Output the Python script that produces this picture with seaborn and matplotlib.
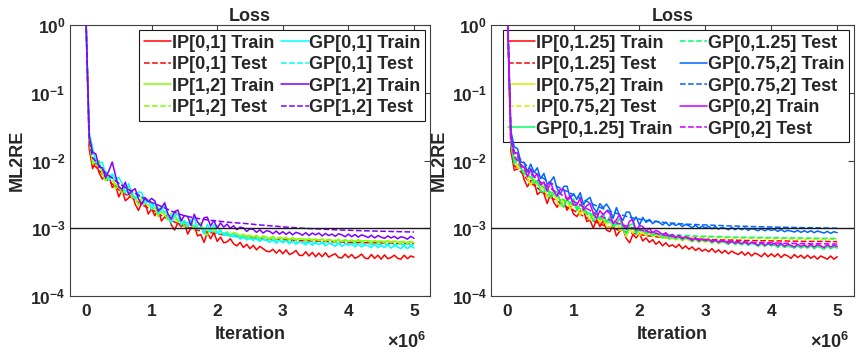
import numpy as np
import seaborn as sns
import matplotlib.pyplot as plt

# iteration grids (x1e6): train logged every 0.05e6, test every 0.1e6
ITERS_TRAIN = [0] + [round(0.05 * k, 2) for k in range(1, 101)]
ITERS_TEST = [0, 0.05] + [round(0.1 * k, 1) for k in range(1, 51)]

# loss values, in units of 1e-4
# ---- left panel ----
ip01_train = [12000,
              150, 76, 96, 66, 53, 63, 60, 40, 43, 29,
              37, 25.5, 28, 34, 22.5, 18.4, 23.7, 24, 16.2, 19.4,
              15.3, 19.2, 12.8, 14.7, 15.8, 11.3, 9.4, 12.1, 10.5, 12,
              8.2, 10.1, 11, 7.7, 8.1, 6.2, 8.7, 7.0, 8.6, 6.4,
              7.4, 6.1, 6.3, 7.0, 5.9, 5.5, 6.2, 5.2, 5.8, 5.0,
              5.6, 4.8, 5.4, 5.0, 4.6, 4.5, 4.9, 4.3, 4.8, 4.2,
              4.8, 4.1, 4.3, 4.7, 4.0, 3.95, 4.5, 3.9, 4.4, 3.8,
              4.3, 3.8, 4.35, 3.75, 4.0, 4.2, 3.7, 3.65, 4.15, 3.7,
              4.1, 3.6, 3.8, 4.15, 3.65, 3.55, 4.1, 3.6, 4.0, 3.5,
              4.05, 3.55, 3.7, 4.0, 3.6, 3.5, 4.0, 3.55, 3.9, 3.75]
ip01_test = [12000, 150, 90, 72, 55, 45, 37, 32, 28, 24, 21, 19, 16.5, 14.5, 13, 11.8, 10.8, 10.0, 9.4, 8.9, 8.6, 8.3, 8.0, 7.8, 7.6, 7.4, 7.3, 7.2, 7.0, 6.9, 6.85, 6.8, 6.7, 6.6, 6.55, 6.5, 6.45, 6.4, 6.35, 6.3, 6.25, 6.2, 6.2, 6.15, 6.1, 6.1, 6.05, 6.0, 6.0, 5.95, 5.95, 5.9]
ip12_train = [12000,
              195, 89, 95, 100, 63, 50, 60, 60, 38, 42,
              32.3, 39.6, 41, 27.9, 29, 21.6, 29.3, 22.8, 27, 18.9,
              20.5, 14.8, 21, 15.7, 13.2, 16.7, 16.8, 12.2, 14.3, 10.6,
              10.8, 13.8, 9.4, 11, 12.2, 9, 7.8, 10.3, 9.2, 10.8,
              9.2, 8.0, 8.9, 7.8, 8.6, 8.4, 7.3, 8.2, 7.2, 7.9,
              7.3, 7.9, 7.0, 7.7, 7.4, 6.8, 7.6, 6.8, 7.4, 6.9,
              7.4, 6.7, 7.3, 6.6, 7.1, 6.9, 6.5, 7.1, 6.5, 7.0,
              6.5, 7.0, 6.4, 6.9, 6.6, 6.3, 6.9, 6.3, 6.8, 6.4,
              6.7, 6.2, 6.8, 6.2, 6.6, 6.4, 6.1, 6.6, 6.1, 6.5,
              6.0, 6.6, 6.1, 6.5, 6.2, 5.9, 6.4, 5.9, 6.4, 6.1]
ip12_test = [12000, 185, 100, 78, 60, 50, 41, 36, 31, 27, 23, 21, 18, 16.2, 14.3, 13.0, 11.8, 11.0, 10.2, 9.6, 9.1, 8.8, 8.5, 8.2, 8.0, 7.8, 7.6, 7.5, 7.4, 7.3, 7.2, 7.1, 7.0, 6.95, 6.9, 6.85, 6.8, 6.75, 6.7, 6.65, 6.6, 6.6, 6.55, 6.5, 6.5, 6.45, 6.4, 6.4, 6.35, 6.35, 6.3, 6.3]
gp01_train = [12000,
              260, 156, 93.5, 94.5, 93.6, 63, 50.4, 63.8, 52, 56.4,
              46.2, 32.8, 45.6, 33.3, 27.2, 34.5, 33.6, 23.4, 26.4, 19.1,
              24.2, 16.6, 18.5, 21.9, 14.4, 12, 15.4, 16.2, 11.1, 13.1,
              10.5, 13, 14.1, 9.7, 10.4, 8.2, 11.4, 9.1, 11.3, 8.4,
              9.4, 7.9, 8.7, 7.5, 8.2, 7.9, 6.9, 7.6, 6.7, 7.3,
              6.6, 7.2, 6.4, 7.0, 6.7, 6.2, 6.9, 6.0, 6.7, 6.1,
              6.6, 5.9, 6.5, 5.8, 6.3, 6.1, 5.7, 6.3, 5.6, 6.2,
              5.7, 6.2, 5.5, 6.0, 5.8, 5.4, 6.0, 5.4, 5.9, 5.6,
              5.9, 5.3, 5.9, 5.3, 5.7, 5.5, 5.2, 5.8, 5.2, 5.6,
              5.2, 5.7, 5.1, 5.6, 5.3, 5.0, 5.6, 5.0, 5.5, 5.1]
gp01_test = [12000, 230, 125, 86, 68, 56, 46, 40, 34, 30, 26, 23, 20, 17.5, 15.5, 14, 12.6, 11.5, 10.5, 9.7, 9.0, 8.5, 8.0, 7.7, 7.4, 7.2, 7.0, 6.8, 6.7, 6.6, 6.5, 6.4, 6.3, 6.25, 6.2, 6.15, 6.1, 6.05, 6.0, 6.0, 5.95, 5.9, 5.9, 5.85, 5.85, 5.8, 5.8, 5.8, 5.75, 5.75, 5.7, 5.7]
gp12_train = [12000,
              230, 132, 125, 79, 78, 56, 71, 95, 60, 40.5,
              37.8, 48, 31.5, 35.7, 38.4, 27, 22.4, 28.6, 24.5, 27.6,
              25.3, 17.9, 20, 23.8, 16.2, 13.6, 17.6, 18.6, 12.8, 15.4,
              14.9, 11, 16.1, 12.4, 10.8, 14.3, 14.6, 10.8, 13.1, 10,
              12.0, 10.4, 11.5, 10.0, 10.9, 9.5, 10.4, 10.1, 9.0, 9.8,
              9.6, 8.7, 9.5, 8.5, 9.2, 9.0, 8.3, 9.1, 8.2, 8.9,
              8.1, 8.8, 8.0, 8.7, 8.4, 7.9, 8.6, 7.8, 8.5, 8.0,
              8.5, 7.7, 8.4, 7.8, 8.2, 7.6, 8.3, 8.0, 7.5, 8.2,
              7.5, 8.1, 7.4, 8.0, 7.7, 7.3, 7.9, 7.2, 7.8, 7.4,
              7.1, 7.7, 7.2, 7.6, 7.0, 7.5, 7.3, 6.9, 7.6, 7.1]
gp12_test = [12000, 200, 110, 85, 65, 55, 46, 40, 35, 31, 27, 24, 22, 20, 18, 16.5, 15.3, 14.6, 14.0, 13.5, 13.1, 12.8, 12.5, 12.2, 12.0, 11.8, 11.6, 11.3, 11.1, 10.9, 10.7, 10.5, 10.3, 10.2, 10.0, 9.9, 9.8, 9.7, 9.6, 9.5, 9.4, 9.35, 9.3, 9.2, 9.15, 9.1, 9.05, 9.0, 8.95, 8.9, 8.85, 8.8]

# ---- right panel ----
ip0125_train = [12000,
                140, 72, 75, 82.5, 52, 41, 50.6, 50.4, 31.5, 34.7,
                32.6, 23.2, 32.4, 24.2, 20.4, 25.9, 25.8, 18.5, 21.5, 16.2,
                14.9, 17.8, 18.8, 12.6, 13.2, 10, 13.6, 10.6, 13, 9.4,
                8.9, 11.3, 7.7, 9.0, 9.8, 7.1, 6.1, 8.1, 7.2, 8.4,
                6.5, 7.2, 6.2, 6.8, 5.8, 6.4, 5.5, 6.1, 5.4, 5.7,
                5.2, 5.8, 5.0, 5.5, 4.9, 5.3, 4.7, 5.1, 4.6, 4.9,
                4.5, 5.0, 4.4, 4.8, 4.3, 4.7, 4.2, 4.6, 4.3, 4.1,
                4.5, 4.0, 4.4, 3.9, 4.3, 4.1, 3.8, 4.3, 3.8, 4.2,
                3.8, 4.2, 3.7, 4.1, 3.9, 3.6, 4.1, 3.7, 4.0, 3.6,
                4.0, 3.6, 3.9, 3.5, 3.9, 3.7, 3.5, 3.9, 3.5, 3.8]
ip0125_test = [12000, 140, 85, 68, 52, 43, 36, 31, 27, 23.5, 20.5, 18.5, 16, 14.3, 12.8, 11.6, 10.6, 9.9, 9.3, 8.8, 8.4, 8.1, 7.8, 7.6, 7.4, 7.3, 7.2, 7.1, 7.0, 6.95, 6.9, 6.85, 6.8, 6.75, 6.7, 6.7, 6.65, 6.6, 6.6, 6.55, 6.55, 6.5, 6.5, 6.5, 6.45, 6.45, 6.4, 6.4, 6.4, 6.4, 6.35, 6.35]
ip0752_train = [12000,
                175, 120, 76.5, 81.9, 81.6, 54, 43.2, 52.8, 43, 48,
                42.6, 28.9, 31.5, 36.9, 24.8, 20.8, 27, 27.6, 19.1, 23.1,
                21.5, 15.2, 21.4, 15.8, 13.3, 17, 16.8, 12.1, 14.2, 10.6,
                10, 12.3, 13.4, 9.2, 9.8, 7.5, 10.5, 8.4, 10.3, 7.7,
                8.9, 7.8, 8.5, 7.5, 8.0, 7.6, 7.1, 7.6, 6.8, 7.3,
                6.7, 7.2, 6.5, 7.0, 6.7, 6.3, 6.8, 6.2, 6.6, 6.2,
                6.5, 6.0, 6.5, 5.9, 6.3, 6.1, 5.8, 6.3, 5.8, 6.1,
                5.8, 6.2, 5.7, 6.0, 5.8, 5.5, 6.0, 5.5, 5.9, 5.6,
                5.9, 5.4, 5.9, 5.4, 5.7, 5.5, 5.3, 5.7, 5.3, 5.6,
                5.3, 5.7, 5.2, 5.6, 5.4, 5.1, 5.6, 5.2, 5.5, 5.3]
ip0752_test = [12000, 165, 98, 76, 59, 49, 40, 35, 30, 26.5, 23, 21, 18.5, 16.5, 14.7, 13.3, 12.0, 11.0, 10.2, 9.6, 9.1, 8.7, 8.4, 8.1, 7.9, 7.8, 7.7, 7.6, 7.5, 7.45, 7.4, 7.35, 7.3, 7.25, 7.2, 7.2, 7.15, 7.1, 7.1, 7.05, 7.05, 7.0, 7.0, 7.0, 6.95, 6.95, 6.9, 6.9, 6.9, 6.9, 6.85, 6.85]
gp0125_train = [12000,
                185, 88, 114, 77.9, 61.2, 73.6, 68.4, 45.9, 50.6, 34.9,
                34.2, 42.6, 28, 32.6, 34.8, 24.3, 20.4, 26.7, 23.5, 27.6,
                18.3, 22.3, 23.8, 16, 16.8, 12.6, 17.3, 13.6, 16.6, 12.2,
                14.8, 10.5, 11.7, 14, 9.7, 8.3, 11.1, 11.8, 8.2, 10,
                9.5, 8.3, 8.9, 7.8, 8.4, 8.0, 7.3, 7.9, 7.0, 7.6,
                6.9, 7.4, 6.7, 7.2, 6.9, 6.4, 7.0, 6.3, 6.8, 6.4,
                6.7, 6.1, 6.6, 6.0, 6.4, 6.2, 5.8, 6.3, 5.8, 6.1,
                5.7, 6.1, 5.6, 6.0, 5.8, 5.4, 5.9, 5.4, 5.8, 5.5,
                5.7, 5.2, 5.7, 5.2, 5.5, 5.3, 5.1, 5.5, 5.1, 5.4,
                5.1, 5.5, 5.0, 5.4, 5.2, 4.9, 5.4, 5.0, 5.3, 5.1]
gp0125_test = [12000, 175, 105, 80, 62, 52, 43, 37, 32, 28, 24.5, 22, 19.5, 17.5, 15.6, 14.1, 12.8, 11.8, 11.0, 10.3, 9.7, 9.2, 8.9, 8.6, 8.4, 8.2, 8.0, 7.9, 7.8, 7.7, 7.65, 7.6, 7.55, 7.5, 7.45, 7.4, 7.4, 7.35, 7.35, 7.3, 7.3, 7.25, 7.25, 7.2, 7.2, 7.2, 7.15, 7.15, 7.1, 7.1, 7.1, 7.05]
gp0752_train = [12000,
                270, 159.5, 150, 94.5, 94, 68, 88.6, 66.5, 78, 54,
                64.4, 44.2, 49, 57.5, 38.7, 32, 41.3, 42, 28, 32.6,
                26.6, 33.6, 22.5, 26.3, 28.6, 20.3, 17.2, 23.1, 20, 22.8,
                19.1, 14, 20.2, 15.2, 13.1, 17.3, 17.3, 12.4, 14.7, 11.1,
                14.5, 12.2, 13.5, 11.7, 12.8, 12.2, 11.2, 12.3, 10.9, 11.8,
                11.0, 11.7, 10.6, 11.4, 10.9, 10.2, 11.1, 10.0, 10.8, 10.1,
                10.7, 9.8, 10.6, 9.7, 10.3, 10.0, 9.5, 10.3, 9.5, 10.1,
                9.5, 10.1, 9.3, 9.9, 9.6, 9.2, 9.8, 9.2, 9.7, 9.3,
                9.6, 9.0, 9.6, 8.9, 9.3, 9.1, 8.8, 9.3, 8.7, 9.2,
                8.7, 9.2, 8.6, 9.1, 8.8, 8.5, 9.0, 8.4, 8.9, 8.6]
gp0752_test = [12000, 240, 135, 102, 82, 68, 58, 50, 44, 39, 35, 31, 28, 25, 22.5, 20.3, 18.6, 17.2, 16.0, 15.0, 14.2, 13.6, 13.1, 12.7, 12.4, 12.1, 11.9, 11.7, 11.5, 11.4, 11.3, 11.2, 11.1, 11.0, 10.9, 10.8, 10.75, 10.7, 10.6, 10.55, 10.5, 10.45, 10.4, 10.35, 10.3, 10.25, 10.2, 10.2, 10.15, 10.1, 10.05, 10.0]
gp02_train = [12000,
              215, 132, 128.8, 81, 80, 57.6, 74.8, 57, 63.6, 43.2,
              48.3, 35.2, 48, 35.2, 29.8, 38, 37.2, 26.1, 30.3, 22.1,
              22.1, 27.6, 18.5, 21.5, 23.3, 16.5, 14, 18.2, 15.7, 18,
              16.6, 11.7, 13.3, 16, 11.2, 9.6, 12.8, 13.4, 9.2, 11,
              10.6, 9.1, 10.0, 8.6, 9.3, 8.8, 8.0, 8.6, 7.6, 8.1,
              7.3, 7.9, 7.0, 7.5, 7.2, 6.6, 7.3, 6.5, 7.0, 6.6,
              6.9, 6.3, 6.8, 6.2, 6.6, 6.4, 6.0, 6.5, 6.0, 6.3,
              5.9, 6.4, 5.8, 6.2, 6.0, 5.6, 6.2, 5.6, 6.0, 5.7,
              6.0, 5.5, 6.0, 5.4, 5.8, 5.6, 5.3, 5.8, 5.4, 5.7,
              5.3, 5.8, 5.3, 5.7, 5.5, 5.2, 5.7, 5.3, 5.6, 5.4]
gp02_test = [12000, 195, 115, 88, 70, 58, 48, 42, 36, 32, 28, 25, 22, 19.5, 17.2, 15.3, 13.8, 12.6, 11.6, 10.8, 10.1, 9.5, 9.0, 8.6, 8.2, 7.9, 7.6, 7.4, 7.2, 7.0, 6.85, 6.7, 6.6, 6.5, 6.4, 6.35, 6.3, 6.25, 6.2, 6.15, 6.1, 6.1, 6.05, 6.0, 6.0, 5.95, 5.95, 5.9, 5.9, 5.9, 5.85, 5.85]

# (label, values, colour, linestyle) -- plotting order = legend order (column-major)
left_series = [
    ('IP[0,1] Train', ip01_train, '#ff0000', '-'),
    ('IP[0,1] Test', ip01_test, '#ff0000', '--'),
    ('IP[1,2] Train', ip12_train, '#80ff00', '-'),
    ('IP[1,2] Test', ip12_test, '#80ff00', '--'),
    ('GP[0,1] Train', gp01_train, '#00ffff', '-'),
    ('GP[0,1] Test', gp01_test, '#00ffff', '--'),
    ('GP[1,2] Train', gp12_train, '#8000ff', '-'),
    ('GP[1,2] Test', gp12_test, '#8000ff', '--'),
]
right_series = [
    ('IP[0,1.25] Train', ip0125_train, '#ff0000', '-'),
    ('IP[0,1.25] Test', ip0125_test, '#ff0000', '--'),
    ('IP[0.75,2] Train', ip0752_train, '#d4f000', '-'),
    ('IP[0.75,2] Test', ip0752_test, '#d4f000', '--'),
    ('GP[0,1.25] Train', gp0125_train, '#00ff66', '-'),
    ('GP[0,1.25] Test', gp0125_test, '#00ff66', '--'),
    ('GP[0.75,2] Train', gp0752_train, '#0066ff', '-'),
    ('GP[0.75,2] Test', gp0752_test, '#0066ff', '--'),
    ('GP[0,2] Train', gp02_train, '#cc00ff', '-'),
    ('GP[0,2] Test', gp02_test, '#cc00ff', '--'),
]

sns.set_theme(style='white')
plt.rcParams['font.family'] = ['Liberation Sans', 'DejaVu Sans']
plt.rcParams['font.weight'] = 'bold'
plt.rcParams['mathtext.fontset'] = 'custom'
plt.rcParams['mathtext.rm'] = 'Liberation Sans:bold'
plt.rcParams['mathtext.bf'] = 'Liberation Sans:bold'

fig = plt.figure(figsize=(8.56, 3.54), dpi=100)
ax_l = fig.add_axes([0.0813, 0.1638, 0.4215, 0.7655])
ax_r = fig.add_axes([0.5738, 0.1638, 0.4235, 0.7655])


def draw_panel(ax, series):
    for name, vals, color, ls in series:
        grid = ITERS_TRAIN if ls == '-' else ITERS_TEST
        sns.lineplot(x=np.array(grid) * 1e6, y=np.array(vals) * 1e-4, ax=ax,
                     color=color, linestyle=ls, lw=1.1, label=name)
    ax.axhline(1e-3, color='k', lw=1.0, zorder=3)
    ax.set_yscale('log')
    ax.set_ylim(1e-4, 1)
    ax.set_xlim(-0.25e6, 5.25e6)
    ax.set_xticks([k * 1e6 for k in range(6)])
    ax.set_xticklabels([str(k) for k in range(6)])
    ax.set_yticks([1e-4, 1e-3, 1e-2, 1e-1, 1])
    ax.set_yticklabels([r'$\mathbf{10^{-4}}$', r'$\mathbf{10^{-3}}$', r'$\mathbf{10^{-2}}$',
                        r'$\mathbf{10^{-1}}$', r'$\mathbf{10^{0}}$'])
    ax.minorticks_off()
    ax.tick_params(direction='in', length=4, width=0.8, color='#404040',
                   top=True, right=True, labelsize=12.5, pad=6, labelcolor='#262626')
    ax.tick_params(axis='y', pad=3)
    for sp in ax.spines.values():
        sp.set_color('#404040')
        sp.set_linewidth(0.8)
    ax.set_title('Loss', fontsize=13, fontweight='bold', pad=3, color='#262626')
    ax.set_xlabel('Iteration', fontsize=13, fontweight='bold', labelpad=5, color='#262626')
    ax.set_ylabel('ML2RE', fontsize=13, fontweight='bold', labelpad=3, color='#262626')
    ax.text(0.88, -0.17, r'$\times\mathbf{10^{6}}$', transform=ax.transAxes,
            fontsize=13, ha='left', va='center', color='#262626')
    leg = ax.legend(ncol=2, loc='upper right', fontsize=13, frameon=True,
                    fancybox=False, edgecolor='k', framealpha=1,
                    handlelength=1.5, handletextpad=0.05, columnspacing=0.4,
                    labelspacing=0.25, borderpad=0.25, borderaxespad=0.28)
    leg.get_frame().set_linewidth(0.8)
    leg.set_zorder(1.5)


draw_panel(ax_l, left_series)
draw_panel(ax_r, right_series)

fig.savefig('out.png', dpi=100)
